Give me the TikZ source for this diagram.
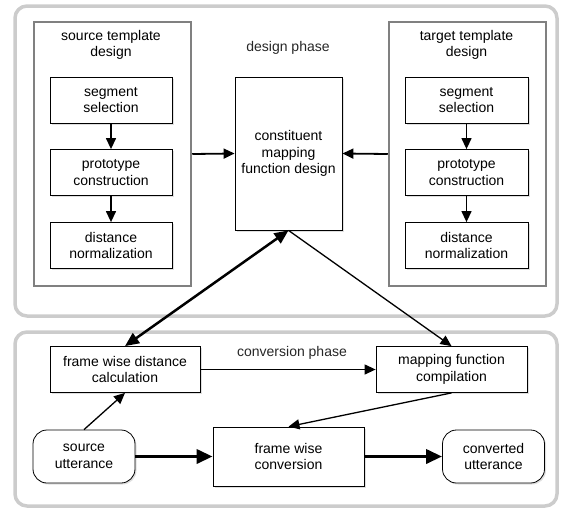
\documentclass[tikz,border=0pt]{standalone}
\usepackage{fontspec}
\setmainfont{Liberation Sans}
\usepackage{tikz}
\usetikzlibrary{arrows.meta,shadows}
\newcommand{\boxfont}{\fontsize{14}{16.5}\selectfont}
\tikzset{
  panel/.style={draw=black!20, line width=3.5pt, rounded corners=12pt},
  tmpl/.style={draw=black!50, line width=2.5pt, fill=white, minimum width=157pt,
               minimum height=264pt, inner sep=0pt},
  stepbox/.style={draw, fill=white, align=center, font=\boxfont, line width=0.8pt,
                  inner sep=2pt, minimum height=46pt,
                  drop shadow={opacity=0.25, shadow xshift=1.5pt, shadow yshift=-1.5pt}},
  uttbox/.style={stepbox, rounded corners=14pt, minimum height=53pt, minimum width=102pt},
  phase/.style={font=\boxfont, text=black!85},
  Narr/.style={-{Triangle[length=11pt,width=10pt]}, line width=1.3pt},
  Warr/.style={-{Triangle[length=16pt,width=14pt]}, line width=3.5pt},
  Darr/.style={{Triangle[length=14pt,width=12pt]}-{Triangle[length=14pt,width=12pt]}, line width=2.5pt}
}

\begin{document}
\begin{tikzpicture}[x=1pt,y=-1pt]
  \useasboundingbox (0,0) rectangle (562,509);

  % the two phase panels
  \draw[panel] (15,6) rectangle (557,316);
  \draw[panel] (15,332) rectangle (557,506);

  \node[phase] (dp) at (288,48) {design phase};
  \node[phase] (cp) at (292,353) {conversion phase};

  % source side
  \node[tmpl] (src) at (112.5,154) {};
  \node[font=\boxfont, align=center] (srct) at (111,45) {source template\\design};
  \node[stepbox, minimum width=122pt] (s1) at (111,100) {segment\\selection};
  \node[stepbox, minimum width=122pt] (s2) at (111,172.5) {prototype\\construction};
  \node[stepbox, minimum width=122pt] (s3) at (111,245.5) {distance\\normalization};

  % target side
  \node[tmpl] (tgt) at (467.5,154) {};
  \node[font=\boxfont, align=center] (tgtt) at (466.5,45) {target template\\design};
  \node[stepbox, minimum width=123pt] (t1) at (466.5,100) {segment\\selection};
  \node[stepbox, minimum width=123pt] (t2) at (466.5,172.5) {prototype\\construction};
  \node[stepbox, minimum width=123pt] (t3) at (466.5,245.5) {distance\\normalization};

  \node[stepbox, minimum width=107pt, minimum height=153pt] (cmf) at (288.5,153.5)
    {constituent\\mapping\\function design};

  % conversion phase
  \node[stepbox, minimum width=150pt] (fwdc) at (125,369.5) {frame wise distance\\calculation};
  \node[stepbox, minimum width=151pt] (mfc) at (451.5,369.5) {mapping function\\compilation};
  \node[uttbox] (su) at (84,456.5) {source\\utterance};
  \node[stepbox, minimum width=151pt, minimum height=59pt] (fwc) at (288.5,456.5) {frame wise\\conversion};
  \node[uttbox] (cu) at (493.5,456.5) {converted\\utterance};

  \draw[Narr] (s1)--(s2);
  \draw[Narr] (s2)--(s3);
  \draw[Narr] (t1)--(t2);
  \draw[Narr] (t2)--(t3);
  \draw[Narr, line width=1.8pt] (src.east) -- (cmf.west);
  \draw[Narr, line width=1.8pt] (tgt.west) -- (cmf.east);

  \draw[Darr] (cmf.south) -- (fwdc.north);
  \draw[Narr] (cmf.south) -- (mfc.north);
  \draw[Narr] (fwdc.east) -- (mfc.west);
  \draw[Narr] (su.north) -- (fwdc.south);
  \draw[Narr] (mfc.south) -- (fwc.north);
  \draw[Warr] (su) -- (fwc);
  \draw[Warr] (fwc) -- (cu);
\end{tikzpicture}
\end{document}
